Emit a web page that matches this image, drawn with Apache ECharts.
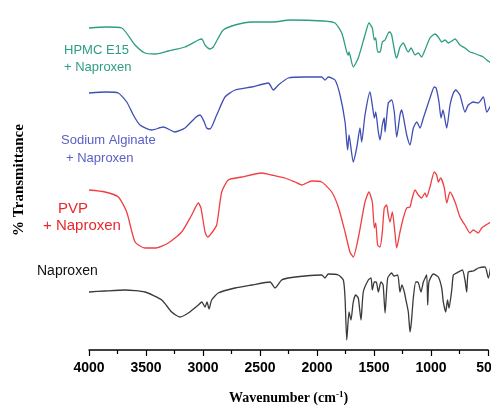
<!DOCTYPE html>
<html>
<head>
<meta charset="utf-8">
<script src="https://cdn.jsdelivr.net/npm/echarts@6/dist/echarts.min.js"></script>
<style>
  html, body { margin: 0; padding: 0; background: #ffffff; }
  #chart { width: 491px; height: 408px; }
</style>
</head>
<body>
<div id="chart"></div>
<script>
// FTIR spectra, stacked with vertical offsets: [wavenumber (cm-1), offset transmittance]
const hpmcNaproxen = [
  [4000,322],[3850,323],[3713,322],[3596,305],[3509,297],[3421,296],[3304,299],[3158,303],
  [3041,310],[3011,311],[2982,305],[2939,301],[2910,303],[2866,312],[2822,320],[2719,325],
  [2573,328],[2385,328],[2237,330],[1947,329],[1842,327],[1783,317],[1739,298],[1725,295],
  [1719,298],[1682,283],[1638,292],[1579,315],[1544,327],[1515,322],[1497,310],[1485,312],
  [1468,298],[1447,298],[1427,308],[1403,310],[1375,317],[1360,318],[1345,315],[1316,297],
  [1301,292],[1272,303],[1243,307],[1213,300],[1199,298],[1175,302],[1140,295],[1111,297],
  [1082,293],[1053,300],[1009,312],[965,316],[936,313],[906,308],[877,310],[848,307],
  [818,309],[789,311],[746,305],[702,302],[658,298],[629,297],[585,295],[541,293],[511,290],[474,287]
];
const alginateNaproxen = [
  [4000,257],[3850,258],[3743,257],[3669,248],[3611,235],[3553,225],[3450,220],[3348,223],
  [3246,218],[3158,222],[3070,232],[3026,235],[2989,228],[2968,222],[2939,221],[2880,235],
  [2807,253],[2719,260],[2573,263],[2427,267],[2383,260],[2339,265],[2252,272],[2105,273],
  [1959,273],[1930,270],[1901,273],[1842,270],[1798,255],[1754,228],[1739,208],[1731,200],
  [1719,215],[1682,188],[1652,202],[1623,222],[1608,208],[1579,235],[1535,258],[1515,245],
  [1497,232],[1485,238],[1462,218],[1447,210],[1427,225],[1410,232],[1403,218],[1375,247],
  [1345,250],[1322,238],[1301,213],[1290,220],[1272,235],[1257,240],[1234,228],[1213,215],
  [1184,205],[1155,222],[1125,228],[1096,222],[1067,232],[1038,242],[1009,252],[971,263],
  [955,262],[930,248],[912,232],[895,240],[862,222],[833,245],[804,257],[783,260],[746,255],
  [702,238],[673,245],[629,248],[585,247],[541,253],[511,238],[474,245]
];
const pvpNaproxen = [
  [4000,160],[3860,158],[3743,153],[3669,138],[3596,108],[3509,102],[3421,102],[3304,107],
  [3187,118],[3099,135],[3041,147],[3018,142],[2982,118],[2959,113],[2924,117],[2880,125],
  [2836,158],[2778,170],[2661,173],[2485,177],[2397,175],[2281,172],[2193,168],[2134,165],
  [2046,169],[1959,168],[1871,158],[1813,143],[1754,118],[1711,98],[1682,93],[1638,112],
  [1579,148],[1544,158],[1515,148],[1497,122],[1485,127],[1468,105],[1447,103],[1427,118],
  [1410,142],[1389,145],[1375,135],[1360,128],[1339,138],[1316,117],[1301,102],[1272,118],
  [1243,132],[1213,142],[1184,143],[1169,150],[1140,160],[1111,155],[1082,152],[1053,157],
  [1038,153],[1009,163],[971,178],[950,175],[936,168],[915,172],[883,162],[862,147],
  [833,158],[789,148],[746,133],[702,125],[658,117],[629,120],[585,117],[555,122],[474,128]
];
const naproxen = [
  [4000,58],[3860,59],[3684,60],[3509,58],[3362,50],[3275,38],[3202,33],[3129,37],
  [3041,45],[3011,48],[2982,43],[2965,48],[2947,41],[2924,50],[2866,57],[2719,62],
  [2573,65],[2412,68],[2368,62],[2310,70],[2252,72],[2105,74],[1959,75],[1930,72],
  [1901,76],[1813,75],[1769,70],[1754,52],[1739,10],[1719,38],[1702,30],[1682,48],
  [1661,55],[1638,52],[1614,30],[1594,58],[1550,70],[1526,72],[1515,60],[1497,68],
  [1480,68],[1462,58],[1439,68],[1420,65],[1403,37],[1380,72],[1345,77],[1325,74],
  [1292,75],[1272,58],[1255,65],[1234,58],[1220,50],[1199,38],[1184,18],[1172,28],
  [1155,52],[1134,68],[1115,68],[1088,58],[1067,68],[1038,75],[1029,45],[1018,68],
  [980,76],[936,73],[906,62],[892,48],[871,38],[855,50],[842,42],[818,60],[804,75],
  [775,77],[725,80],[702,70],[687,58],[673,78],[629,79],[585,82],[526,83],[497,72],[474,85]
];

const seriesNames = ['HPMC E15 + Naproxen', 'Sodium Alginate + Naproxen', 'PVP + Naproxen', 'Naproxen'];
const seriesData = [hpmcNaproxen, alginateNaproxen, pvpNaproxen, naproxen];
const lineColors = ['#2e9d84', '#3f4fb3', '#ef3f43', '#3a3a3a'];

const chart = echarts.init(document.getElementById('chart'), null, { renderer: 'canvas' });

const sans = '"Liberation Sans", Arial, sans-serif';
const serif = '"Liberation Serif", "Times New Roman", serif';

chart.setOption({
  backgroundColor: '#ffffff',
  animation: false,
  grid: { left: 89, right: 3, top: 10, bottom: 58, containLabel: false, outerBoundsMode: 'none' },
  xAxis: {
    type: 'value',
    inverse: true,
    min: 500,
    max: 4000,
    interval: 500,
    minorTick: { show: true, splitNumber: 2, length: 4, lineStyle: { color: '#000', width: 1.2 } },
    axisLine: { lineStyle: { color: '#000', width: 1.5 } },
    axisTick: { length: 6, lineStyle: { color: '#000', width: 1.2 } },
    axisLabel: {
      color: '#000', fontFamily: sans, fontWeight: 'bold', fontSize: 14, margin: 11,
      hideOverlap: false,
      formatter: v => String(v)
    },
    splitLine: { show: false },
    name: '{a|Wavenumber (cm}{s|-1}{a|)}',
    nameLocation: 'middle',
    nameGap: 40,
    nameTextStyle: {
      rich: {
        a: { fontFamily: serif, fontWeight: 'bold', fontSize: 14, color: '#000' },
        s: { fontFamily: serif, fontWeight: 'bold', fontSize: 9, color: '#000', padding: [0, 0, 7, 0] }
      }
    }
  },
  yAxis: {
    type: 'value',
    min: 0,
    max: 340,
    axisLine: { show: false },
    axisTick: { show: false },
    axisLabel: { show: false },
    splitLine: { show: false },
    name: '% Transmittance',
    nameLocation: 'middle',
    nameRotate: 90,
    nameGap: 62,
    nameTextStyle: { fontFamily: serif, fontWeight: 'bold', fontSize: 15, color: '#000' }
  },
  series: seriesData.map((d, i) => ({
    name: seriesNames[i],
    type: 'line',
    data: d,
    showSymbol: false,
    clip: false,
    smooth: 0.2,
    lineStyle: { color: lineColors[i], width: 1.3 }
  })),
  graphic: [
    { type: 'text', left: 64, top: 44, style: { text: 'HPMC E15', font: '13px ' + sans, fill: '#2e9d84' } },
    { type: 'text', left: 64, top: 61, style: { text: '+ Naproxen', font: '13px ' + sans, fill: '#2e9d84' } },
    { type: 'text', left: 61, top: 134, style: { text: 'Sodium Alginate', font: '13px ' + sans, fill: '#5a60c6' } },
    { type: 'text', left: 66, top: 152, style: { text: '+ Naproxen', font: '13px ' + sans, fill: '#5a60c6' } },
    { type: 'text', left: 58, top: 201, style: { text: 'PVP', font: '15px ' + sans, fill: '#e8282d' } },
    { type: 'text', left: 43, top: 218, style: { text: '+ Naproxen', font: '15px ' + sans, fill: '#e8282d' } },
    { type: 'text', left: 37, top: 264, style: { text: 'Naproxen', font: '14px ' + sans, fill: '#111' } }
  ]
});
</script>
</body>
</html>
